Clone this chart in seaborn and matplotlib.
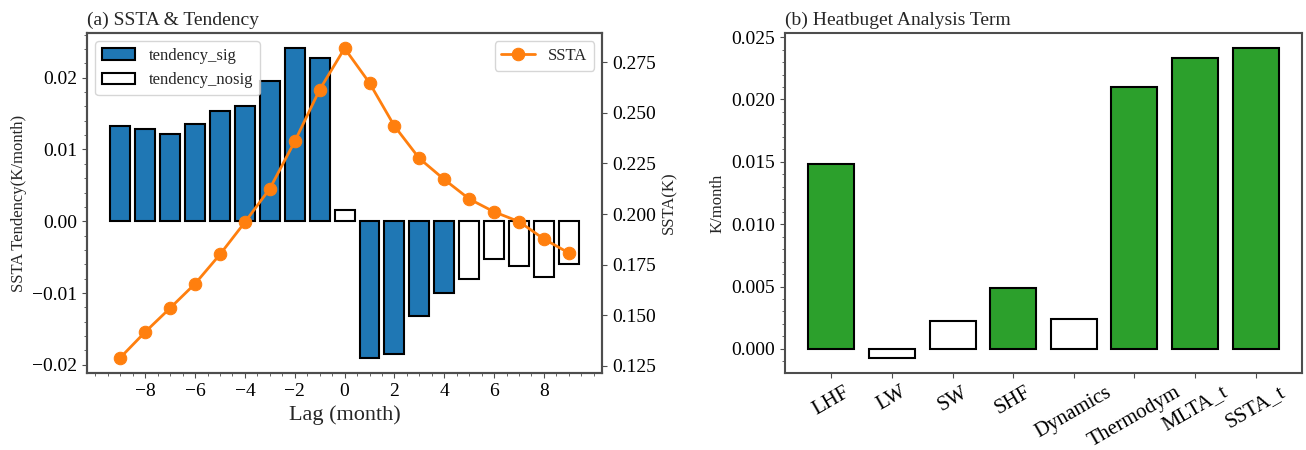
import matplotlib
matplotlib.use("Agg")
import matplotlib.pyplot as plt
from matplotlib.patches import Patch
from matplotlib.ticker import AutoMinorLocator, MultipleLocator
import seaborn as sns

# panel (a): lagged SSTA tendency and SSTA
lags = list(range(-9, 10))
lag_ticks = [-8, -6, -4, -2, 0, 2, 4, 6, 8]
tendency = [0.0133, 0.0129, 0.0121, 0.0136, 0.0153, 0.0160, 0.0195, 0.0241, 0.0228,
            0.0016, -0.0190, -0.0185, -0.0132, -0.0100, -0.0080, -0.0053, -0.0062,
            -0.0077, -0.0060]
tendency_sig = [True] * 9 + [False] + [True] * 4 + [False] * 5
ssta = [0.1291, 0.1418, 0.1536, 0.1656, 0.1801, 0.1960, 0.2126, 0.2359, 0.2615,
        0.2819, 0.2648, 0.2435, 0.2275, 0.2171, 0.2075, 0.2011, 0.1963, 0.1877,
        0.1808]

# panel (b): heat budget terms
terms = ["LHF", "LW", "SW", "SHF", "Dynamics", "Thermodym", "MLTA_t", "SSTA_t"]
term_values = [0.0148, -0.0007, 0.0022, 0.0049, 0.0024, 0.0210, 0.0233, 0.0241]
term_sig = [True, False, False, True, False, True, True, True]

sns.set_style("ticks", {"axes.edgecolor": "0.3", "xtick.color": "0.3", "ytick.color": "0.3"})
plt.rcParams["font.family"] = ["Liberation Serif", "DejaVu Serif"]
plt.rcParams["axes.linewidth"] = 1.5
plt.rcParams["xtick.labelsize"] = 14
plt.rcParams["ytick.labelsize"] = 14
plt.rcParams["xtick.labelcolor"] = "black"
plt.rcParams["ytick.labelcolor"] = "black"

fig = plt.figure(figsize=(13.06, 4.5), dpi=100)
ax1 = fig.add_axes([0.0666, 0.171, 0.3945, 0.756])
ax3 = fig.add_axes([0.601, 0.171, 0.396, 0.756])

# --- (a) ---
bar_colors = ["tab:blue" if s else "white" for s in tendency_sig]
ax1.bar(lags, tendency, width=0.8, color=bar_colors, edgecolor="black", linewidth=1.5)
ax1.set_xlabel("Lag (month)", fontsize=16)
ax1.set_ylabel("SSTA Tendency(K/month)", fontsize=12)
ax1.set_title("(a) SSTA & Tendency", loc="left", fontsize=14)
ax1.set_xticks(lag_ticks)
ax1.yaxis.set_major_locator(MultipleLocator(0.01))
ax1.xaxis.set_minor_locator(AutoMinorLocator())
ax1.yaxis.set_minor_locator(AutoMinorLocator())
handles = [Patch(facecolor="tab:blue", edgecolor="black", linewidth=1.5, label="tendency_sig"),
           Patch(facecolor="white", edgecolor="black", linewidth=1.5, label="tendency_nosig")]
ax1.legend(handles=handles, loc="upper left", fontsize=12)

ax2 = ax1.twinx()
sns.lineplot(x=lags, y=ssta, ax=ax2, color="tab:orange", marker="o", markersize=9,
             markeredgecolor="tab:orange", linewidth=2, label="SSTA")
ax2.set_ylabel("SSTA(K)", fontsize=12)
ax2.yaxis.set_major_locator(MultipleLocator(0.025))
ax2.legend(loc="upper right", fontsize=12)

# --- (b) ---
sig_labels = ["sig" if s else "nosig" for s in term_sig]
sns.barplot(x=terms, y=term_values, hue=sig_labels, hue_order=["sig", "nosig"],
            palette={"sig": "tab:green", "nosig": "white"}, saturation=1,
            dodge=False, width=0.76, edgecolor="black", linewidth=1.5,
            legend=False, ax=ax3)
n = len(terms)
ax3.set_xlim(-0.38 - 0.05 * (n - 0.24), n - 0.62 + 0.05 * (n - 0.24))
ax3.set_ylabel("K/month", fontsize=12)
ax3.set_title("(b) Heatbuget Analysis Term", loc="left", fontsize=14)
ax3.yaxis.set_major_locator(MultipleLocator(0.005))
ax3.yaxis.set_minor_locator(AutoMinorLocator())
ax3.tick_params(axis="x", rotation=30, labelsize=15)

fig.savefig("out.png", dpi=100)
